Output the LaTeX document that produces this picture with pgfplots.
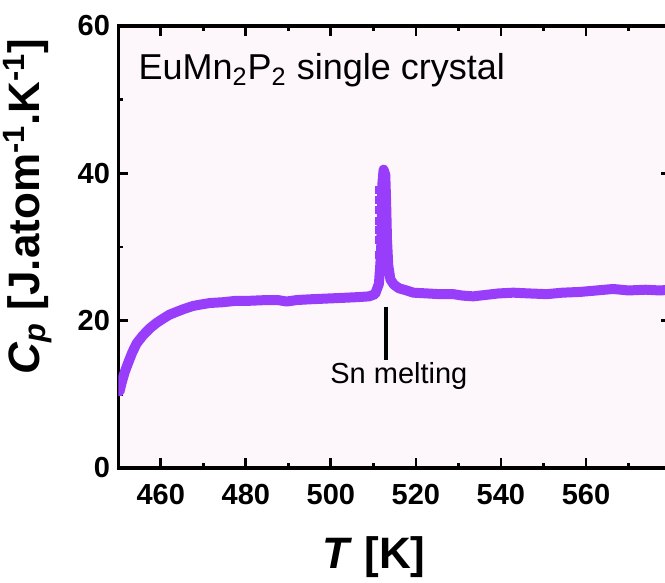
\documentclass[border=0pt]{standalone}
\usepackage{pgfplots}
\pgfplotsset{compat=1.18}
\usepackage{fontspec}
\setmainfont{Liberation Sans}
\definecolor{cpline}{RGB}{152,62,250}
\definecolor{bgpink}{RGB}{253,247,252}
\begin{document}
\begin{tikzpicture}
\begin{axis}[
 scale only axis, width=276.35pt, height=221pt,
 xmin=450, xmax=580, ymin=0, ymax=60,
 xtick={460,480,...,560}, minor xtick={450,470,...,570},
 ytick={0,20,40,60}, minor ytick={10,30,50},
 tick align=inside, major tick length=5pt, minor tick length=2.5pt,
 every tick/.style={black, line width=1.4pt},
 axis line style={line width=1.6pt},
 axis background/.style={fill=bgpink},
 /pgf/number format/assume math mode=true,
 tick label style={font=\fontsize{14.5}{14.5}\selectfont\bfseries, inner sep=0pt},
 xticklabel style={yshift=-8pt},
 yticklabel style={xshift=-4pt},
 xlabel={\textit{T} [K]},
 xlabel style={font=\fontsize{22}{22}\selectfont\bfseries, at={([yshift=-34pt]rel axis cs:0.4626,0)}, anchor=north, inner sep=0pt},
 ylabel={\textit{C}\textsubscript{\textit{p}} [J.atom\textsuperscript{-1}.K\textsuperscript{-1}]},
 ylabel style={font=\fontsize{22}{22}\selectfont\bfseries, at={([xshift=-33pt]rel axis cs:0,0.5916)}, anchor=south, inner sep=0pt},
]
\addplot[color=cpline, line width=5pt, line join=round, line cap=round] coordinates {
(450.3,10.4)(450.8,11.6)(451.5,13.0)(452.4,14.4)(453.3,15.7)(454.3,16.9)(455.8,18.0)
(457.5,19.0)(459.0,19.7)(460.6,20.3)(462.0,20.8)(463.7,21.2)(465.5,21.6)(467.6,22.0)
(469.5,22.2)(471.6,22.4)(474.5,22.5)(477.8,22.7)(481.0,22.7)(484.9,22.8)(487.5,22.8)
(489.6,22.6)(492.0,22.8)(495.1,22.9)(499.0,23.0)(502.9,23.1)(506.5,23.2)(509.0,23.3)
(510.4,23.6)(511.3,25.0)(511.8,29)(512.0,34)(512.1,38.5)(512.4,40.5)(512.8,39.8)
(513.0,36)(513.2,31)(513.5,27.5)(514.0,25.6)(514.8,24.9)(516.0,24.4)(517.8,24.1)
(519.4,23.8)(522.5,23.7)(525.5,23.6)(528.8,23.6)(531.0,23.4)(533.5,23.3)(536.5,23.5)
(539.5,23.7)(542.9,23.8)(546.5,23.7)(550.8,23.6)(554.5,23.8)(558.6,23.9)(562.5,24.1)
(566.4,24.3)(570.0,24.1)(574.0,24.2)(577.4,24.1)(580.0,24.2)
};
\addplot[only marks, mark=square*, mark size=1.75pt, color=cpline] coordinates {
(511.2,28.9)(511.2,31.0)(511.2,32.3)(511.2,33.6)(511.2,35.0)(511.2,36.4)(511.2,37.7)
};
\draw[line width=2pt] (axis cs:513.0,21.9) -- (axis cs:513.0,14.7);
\node[anchor=base, inner sep=0pt, font=\fontsize{14.5}{14.5}\selectfont] at (axis cs:516.0,11.5) {Sn melting};
\node[anchor=base west, inner sep=0pt, font=\fontsize{18}{18}\selectfont] at (axis cs:454.7,52.7) {EuMn\textsubscript{2}P\textsubscript{2} single crystal};
\coordinate (sw) at (rel axis cs:0,0);
\coordinate (ne) at (rel axis cs:1,1);
\end{axis}
\pgfresetboundingbox
\path ([shift={(-59.15pt,-57.5pt)}]sw) rectangle ([shift={(-3pt,13pt)}]ne);
\end{tikzpicture}
\end{document}
